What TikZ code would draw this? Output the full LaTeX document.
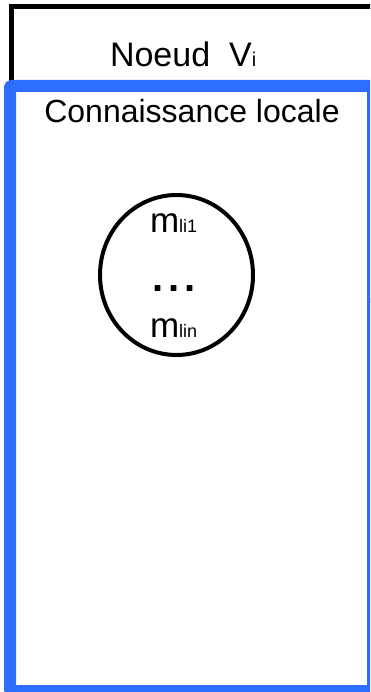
\documentclass[tikz,border=0pt]{standalone}
\usepackage{fontspec}
\setmainfont{Liberation Sans}
\usetikzlibrary{shapes.geometric}
\definecolor{boxblue}{RGB}{45,110,255}
\tikzset{
  txt/.style={inner sep=0pt, outer sep=0pt, anchor=base, font=\fontsize{#1}{#1}\selectfont},
}
\begin{document}
\begin{tikzpicture}[x=1pt,y=-1pt]
\useasboundingbox (0,0) rectangle (370,692);
\clip (0,0) rectangle (370,692);
% outer black node frame
\draw[line width=5pt] (11,6.5) rectangle (390,300);
% blue local knowledge box
\draw[line width=12pt, boxblue, fill=white, rounded corners=2pt] (10,86) rectangle (373,691);
\node[txt=34, anchor=base west] (title) at (110,67) {Noeud\ \ V{\fontsize{20}{20}\selectfont i}};
\node[txt=32] (local) at (192,123) {Connaissance locale};
\node[draw, ellipse, line width=4pt, minimum width=153pt, minimum height=160pt, inner sep=0pt] (set) at (176.5,275) {};
\node[txt=35, anchor=base west] (m1) at (150,233) {m{\fontsize{18}{18}\selectfont li1}};
\node[txt=40] (dots) at (174,291) {\bfseries .\kern5pt.\kern5pt.};
\node[txt=35, anchor=base west] (mn) at (150,337) {m{\fontsize{18}{18}\selectfont lin}};
\end{tikzpicture}
\end{document}
